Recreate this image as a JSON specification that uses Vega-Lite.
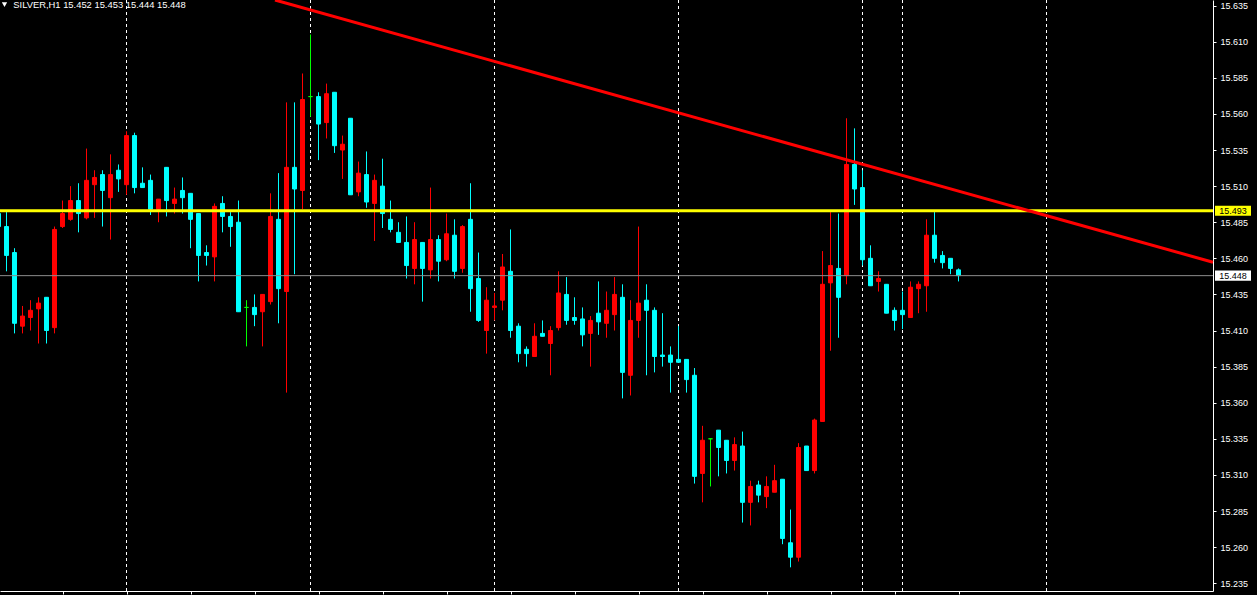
{
  "$schema": "https://vega.github.io/schema/vega-lite/v6.json",
  "width": 1213,
  "height": 591,
  "autosize": {"type": "none"},
  "padding": {"left": 0, "top": 0, "right": 44, "bottom": 4},
  "background": "#000000",
  "config": {"view": {"stroke": null}, "axis": {"grid": false, "labelOverlap": false}, "scale": {"continuousPadding": 0}},
  "datasets": {
    "candles": [
      {"i":-1,"o":15.491,"h":15.493,"l":15.480,"c":15.482},
      {"i":0,"o":15.482,"h":15.492,"l":15.451,"c":15.462},
      {"i":1,"o":15.464,"h":15.467,"l":15.408,"c":15.415},
      {"i":2,"o":15.413,"h":15.427,"l":15.408,"c":15.420},
      {"i":3,"o":15.419,"h":15.431,"l":15.410,"c":15.424},
      {"i":4,"o":15.425,"h":15.433,"l":15.401,"c":15.429},
      {"i":5,"o":15.433,"h":15.433,"l":15.401,"c":15.410},
      {"i":6,"o":15.412,"h":15.482,"l":15.408,"c":15.480},
      {"i":7,"o":15.482,"h":15.500,"l":15.481,"c":15.491},
      {"i":8,"o":15.487,"h":15.510,"l":15.486,"c":15.500},
      {"i":9,"o":15.500,"h":15.512,"l":15.478,"c":15.491},
      {"i":10,"o":15.488,"h":15.536,"l":15.487,"c":15.514},
      {"i":11,"o":15.511,"h":15.521,"l":15.488,"c":15.516},
      {"i":12,"o":15.518,"h":15.521,"l":15.482,"c":15.507},
      {"i":13,"o":15.502,"h":15.532,"l":15.473,"c":15.518},
      {"i":14,"o":15.521,"h":15.525,"l":15.506,"c":15.515},
      {"i":15,"o":15.511,"h":15.548,"l":15.504,"c":15.545},
      {"i":16,"o":15.545,"h":15.547,"l":15.505,"c":15.509},
      {"i":17,"o":15.512,"h":15.523,"l":15.509,"c":15.509},
      {"i":18,"o":15.514,"h":15.518,"l":15.490,"c":15.494},
      {"i":19,"o":15.494,"h":15.501,"l":15.485,"c":15.501},
      {"i":20,"o":15.523,"h":15.523,"l":15.489,"c":15.500},
      {"i":21,"o":15.498,"h":15.509,"l":15.491,"c":15.501},
      {"i":22,"o":15.507,"h":15.516,"l":15.491,"c":15.502},
      {"i":23,"o":15.505,"h":15.505,"l":15.467,"c":15.487},
      {"i":24,"o":15.491,"h":15.491,"l":15.444,"c":15.462},
      {"i":25,"o":15.464,"h":15.469,"l":15.455,"c":15.462},
      {"i":26,"o":15.461,"h":15.498,"l":15.444,"c":15.496},
      {"i":27,"o":15.498,"h":15.503,"l":15.478,"c":15.489},
      {"i":28,"o":15.489,"h":15.492,"l":15.468,"c":15.482},
      {"i":29,"o":15.485,"h":15.500,"l":15.423,"c":15.423},
      {"i":30,"o":15.426,"h":15.431,"l":15.399,"c":15.426},
      {"i":31,"o":15.426,"h":15.435,"l":15.413,"c":15.421},
      {"i":32,"o":15.423,"h":15.435,"l":15.399,"c":15.435},
      {"i":33,"o":15.430,"h":15.505,"l":15.428,"c":15.489},
      {"i":34,"o":15.487,"h":15.519,"l":15.415,"c":15.439},
      {"i":35,"o":15.437,"h":15.568,"l":15.367,"c":15.523},
      {"i":36,"o":15.523,"h":15.568,"l":15.449,"c":15.508},
      {"i":37,"o":15.507,"h":15.588,"l":15.494,"c":15.570},
      {"i":38,"o":15.572,"h":15.615,"l":15.558,"c":15.572},
      {"i":39,"o":15.572,"h":15.575,"l":15.528,"c":15.553},
      {"i":40,"o":15.554,"h":15.581,"l":15.543,"c":15.574},
      {"i":41,"o":15.575,"h":15.575,"l":15.533,"c":15.538},
      {"i":42,"o":15.535,"h":15.545,"l":15.515,"c":15.539},
      {"i":43,"o":15.557,"h":15.557,"l":15.504,"c":15.504},
      {"i":44,"o":15.506,"h":15.527,"l":15.503,"c":15.519},
      {"i":45,"o":15.518,"h":15.534,"l":15.495,"c":15.499},
      {"i":46,"o":15.498,"h":15.518,"l":15.472,"c":15.514},
      {"i":47,"o":15.510,"h":15.529,"l":15.481,"c":15.491},
      {"i":48,"o":15.487,"h":15.500,"l":15.478,"c":15.480},
      {"i":49,"o":15.478,"h":15.485,"l":15.471,"c":15.471},
      {"i":50,"o":15.471,"h":15.489,"l":15.446,"c":15.455},
      {"i":51,"o":15.453,"h":15.485,"l":15.442,"c":15.473},
      {"i":52,"o":15.471,"h":15.471,"l":15.430,"c":15.453},
      {"i":53,"o":15.452,"h":15.509,"l":15.446,"c":15.473},
      {"i":54,"o":15.473,"h":15.476,"l":15.444,"c":15.458},
      {"i":55,"o":15.459,"h":15.491,"l":15.458,"c":15.477},
      {"i":56,"o":15.476,"h":15.487,"l":15.446,"c":15.451},
      {"i":57,"o":15.453,"h":15.483,"l":15.450,"c":15.482},
      {"i":58,"o":15.487,"h":15.512,"l":15.423,"c":15.439},
      {"i":59,"o":15.446,"h":15.464,"l":15.416,"c":15.417},
      {"i":60,"o":15.410,"h":15.440,"l":15.394,"c":15.431},
      {"i":61,"o":15.426,"h":15.436,"l":15.417,"c":15.427},
      {"i":62,"o":15.431,"h":15.463,"l":15.424,"c":15.454},
      {"i":63,"o":15.451,"h":15.480,"l":15.405,"c":15.410},
      {"i":64,"o":15.413,"h":15.415,"l":15.388,"c":15.394},
      {"i":65,"o":15.397,"h":15.399,"l":15.385,"c":15.394},
      {"i":66,"o":15.392,"h":15.415,"l":15.392,"c":15.406},
      {"i":67,"o":15.408,"h":15.417,"l":15.406,"c":15.406},
      {"i":68,"o":15.401,"h":15.413,"l":15.379,"c":15.410},
      {"i":69,"o":15.412,"h":15.451,"l":15.410,"c":15.436},
      {"i":70,"o":15.435,"h":15.447,"l":15.414,"c":15.417},
      {"i":71,"o":15.419,"h":15.433,"l":15.414,"c":15.417},
      {"i":72,"o":15.418,"h":15.426,"l":15.399,"c":15.407},
      {"i":73,"o":15.408,"h":15.420,"l":15.385,"c":15.417},
      {"i":74,"o":15.422,"h":15.444,"l":15.407,"c":15.416},
      {"i":75,"o":15.415,"h":15.437,"l":15.405,"c":15.424},
      {"i":76,"o":15.421,"h":15.447,"l":15.410,"c":15.435},
      {"i":77,"o":15.433,"h":15.442,"l":15.363,"c":15.381},
      {"i":78,"o":15.379,"h":15.431,"l":15.365,"c":15.417},
      {"i":79,"o":15.417,"h":15.482,"l":15.405,"c":15.429},
      {"i":80,"o":15.431,"h":15.442,"l":15.379,"c":15.424},
      {"i":81,"o":15.424,"h":15.426,"l":15.381,"c":15.392},
      {"i":82,"o":15.393,"h":15.422,"l":15.385,"c":15.392},
      {"i":83,"o":15.393,"h":15.399,"l":15.367,"c":15.388},
      {"i":84,"o":15.390,"h":15.413,"l":15.388,"c":15.388},
      {"i":85,"o":15.390,"h":15.390,"l":15.367,"c":15.376},
      {"i":86,"o":15.379,"h":15.384,"l":15.304,"c":15.309},
      {"i":87,"o":15.311,"h":15.344,"l":15.291,"c":15.334},
      {"i":88,"o":15.335,"h":15.335,"l":15.302,"c":15.335},
      {"i":89,"o":15.341,"h":15.341,"l":15.309,"c":15.329},
      {"i":90,"o":15.334,"h":15.334,"l":15.311,"c":15.320},
      {"i":91,"o":15.320,"h":15.336,"l":15.313,"c":15.331},
      {"i":92,"o":15.330,"h":15.340,"l":15.277,"c":15.291},
      {"i":93,"o":15.291,"h":15.306,"l":15.275,"c":15.302},
      {"i":94,"o":15.303,"h":15.306,"l":15.291,"c":15.296},
      {"i":95,"o":15.295,"h":15.309,"l":15.287,"c":15.302},
      {"i":96,"o":15.298,"h":15.317,"l":15.298,"c":15.306},
      {"i":97,"o":15.307,"h":15.307,"l":15.262,"c":15.266},
      {"i":98,"o":15.263,"h":15.286,"l":15.246,"c":15.253},
      {"i":99,"o":15.253,"h":15.332,"l":15.250,"c":15.329},
      {"i":100,"o":15.330,"h":15.330,"l":15.313,"c":15.313},
      {"i":101,"o":15.313,"h":15.349,"l":15.311,"c":15.348},
      {"i":102,"o":15.347,"h":15.465,"l":15.347,"c":15.442},
      {"i":103,"o":15.443,"h":15.492,"l":15.396,"c":15.455},
      {"i":104,"o":15.453,"h":15.491,"l":15.405,"c":15.433},
      {"i":105,"o":15.448,"h":15.557,"l":15.442,"c":15.525},
      {"i":106,"o":15.525,"h":15.550,"l":15.497,"c":15.508},
      {"i":107,"o":15.509,"h":15.521,"l":15.455,"c":15.459},
      {"i":108,"o":15.460,"h":15.469,"l":15.441,"c":15.441},
      {"i":109,"o":15.444,"h":15.451,"l":15.437,"c":15.446},
      {"i":110,"o":15.442,"h":15.442,"l":15.422,"c":15.422},
      {"i":111,"o":15.424,"h":15.426,"l":15.410,"c":15.417},
      {"i":112,"o":15.424,"h":15.437,"l":15.411,"c":15.421},
      {"i":113,"o":15.419,"h":15.444,"l":15.419,"c":15.440},
      {"i":114,"o":15.439,"h":15.444,"l":15.422,"c":15.442},
      {"i":115,"o":15.441,"h":15.487,"l":15.423,"c":15.476},
      {"i":116,"o":15.476,"h":15.492,"l":15.457,"c":15.460},
      {"i":117,"o":15.462,"h":15.465,"l":15.453,"c":15.457},
      {"i":118,"o":15.460,"h":15.460,"l":15.449,"c":15.453},
      {"i":119,"o":15.452,"h":15.453,"l":15.444,"c":15.448}
    ],
    "seps": [{"i":15},{"i":38},{"i":61},{"i":84},{"i":107},{"i":112},{"i":130}],
    "trend": [{"i":33.5625,"p":15.6389},{"i":150.8125,"p":15.4573}],
    "levels": [
      {"name":"level","price":15.493,"label":"15.493"},
      {"name":"bid","price":15.448,"label":"15.448"}
    ],
    "header": [{"text":"SILVER,H1  15.452 15.453 15.444 15.448"}]
  },
  "layer": [
    {
      "data": {"name": "seps"},
      "mark": {"type": "rule", "color": "#ffffff", "strokeWidth": 1, "strokeDash": [3, 3]},
      "encoding": {
        "x": {"field": "i", "type": "quantitative", "title": null,
          "scale": {"domain": [-0.8125, 150.8125], "nice": false, "zero": false, "padding": 0},
          "axis": {"orient": "bottom", "values": [7,15,23,31,39,47,55,63,71,79,87,95,103,111,119], "tickCount": 40, "labels": false, "domainColor": "#ffffff", "domainWidth": 1, "tickColor": "#ffffff", "tickSize": 3, "grid": false, "title": null}}
      }
    },
    {
      "data": {"name": "candles"},
      "mark": {"type": "rule", "strokeWidth": 1},
      "encoding": {
        "x": {"field": "i", "type": "quantitative", "title": null, "scale": {"domain": [-0.8125, 150.8125], "nice": false, "zero": false, "padding": 0}},
        "y": {"field": "h", "type": "quantitative", "title": null,
          "scale": {"domain": [15.2296, 15.6389], "nice": false, "zero": false},
          "axis": {"orient": "right", "values": [15.235,15.26,15.285,15.31,15.335,15.36,15.385,15.41,15.435,15.46,15.485,15.51,15.535,15.56,15.585,15.61,15.635], "tickCount": 30, "format": ".3f", "domainColor": "#ffffff", "domainWidth": 1, "tickColor": "#ffffff", "tickSize": 3, "tickWidth": 1, "labelColor": "#ffffff", "labelFont": "Liberation Sans", "labelFontSize": 9, "labelPadding": 4, "labelBaseline": "middle", "labelOverlap": false, "labelFlush": false, "labelBound": false, "grid": false, "title": null}},
        "y2": {"field": "l"},
        "color": {"condition": [{"test": "datum.c > datum.o", "value": "#ff0000"}, {"test": "datum.c < datum.o", "value": "#00ffff"}], "value": "#00ff00"}
      }
    },
    {
      "data": {"name": "candles"},
      "mark": {"type": "bar", "width": 4, "strokeWidth": 1},
      "encoding": {
        "x": {"field": "i", "type": "quantitative", "title": null, "scale": {"domain": [-0.8125, 150.8125], "nice": false, "zero": false, "padding": 0}},
        "y": {"field": "o", "type": "quantitative", "title": null, "scale": {"domain": [15.2296, 15.6389], "nice": false, "zero": false}},
        "y2": {"field": "c"},
        "fill": {"condition": [{"test": "datum.c > datum.o", "value": "#ff0000"}, {"test": "datum.c < datum.o", "value": "#00ffff"}], "value": "#00ff00"},
        "stroke": {"condition": [{"test": "datum.c > datum.o", "value": "#ff0000"}, {"test": "datum.c < datum.o", "value": "#00ffff"}], "value": "#00ff00"}
      }
    },
    {
      "data": {"name": "levels"},
      "transform": [{"filter": "datum.name == 'bid'"}],
      "mark": {"type": "rule", "color": "#8c8c8c", "strokeWidth": 1},
      "encoding": {
        "y": {"field": "price", "type": "quantitative", "title": null, "scale": {"domain": [15.2296, 15.6389], "nice": false, "zero": false}}
      }
    },
    {
      "data": {"name": "levels"},
      "transform": [{"filter": "datum.name == 'level'"}],
      "mark": {"type": "rule", "color": "#ffff00", "strokeWidth": 3},
      "encoding": {
        "y": {"field": "price", "type": "quantitative", "title": null, "scale": {"domain": [15.2296, 15.6389], "nice": false, "zero": false}}
      }
    },
    {
      "data": {"name": "trend"},
      "mark": {"type": "line", "color": "#ff0000", "strokeWidth": 3},
      "encoding": {
        "x": {"field": "i", "type": "quantitative", "title": null, "scale": {"domain": [-0.8125, 150.8125], "nice": false, "zero": false, "padding": 0}},
        "y": {"field": "p", "type": "quantitative", "title": null, "scale": {"domain": [15.2296, 15.6389], "nice": false, "zero": false}}
      }
    },
    {
      "data": {"name": "levels"},
      "mark": {"type": "point", "filled": true, "opacity": 1, "shape": "M-1,-0.28H1V0.28H-1Z", "size": 1296, "strokeWidth": 0, "clip": false},
      "encoding": {
        "x": {"datum": 153.3125, "type": "quantitative", "scale": {"domain": [-0.8125, 150.8125], "nice": false, "zero": false, "padding": 0}},
        "y": {"field": "price", "type": "quantitative", "title": null, "scale": {"domain": [15.2296, 15.6389], "nice": false, "zero": false}},
        "color": {"condition": {"test": "datum.name == 'level'", "value": "#ffff00"}, "value": "#ffffff"}
      }
    },
    {
      "data": {"name": "levels"},
      "mark": {"type": "text", "color": "#000000", "font": "Liberation Sans", "fontSize": 9, "align": "center", "baseline": "middle", "clip": false},
      "encoding": {
        "x": {"datum": 153.3125, "type": "quantitative", "scale": {"domain": [-0.8125, 150.8125], "nice": false, "zero": false, "padding": 0}},
        "y": {"field": "price", "type": "quantitative", "title": null, "scale": {"domain": [15.2296, 15.6389], "nice": false, "zero": false}},
        "text": {"field": "label"}
      }
    },
    {
      "data": {"name": "header"},
      "mark": {"type": "text", "color": "#ffffff", "font": "Liberation Sans", "fontSize": 9.4, "align": "left", "baseline": "alphabetic"},
      "encoding": {
        "x": {"datum": 0.85, "type": "quantitative", "scale": {"domain": [-0.8125, 150.8125], "nice": false, "zero": false, "padding": 0}},
        "y": {"datum": 15.6332, "type": "quantitative", "scale": {"domain": [15.2296, 15.6389], "nice": false, "zero": false}},
        "text": {"field": "text"}
      }
    },
    {
      "data": {"name": "header"},
      "mark": {"type": "point", "shape": "triangle-down", "filled": true, "color": "#ffffff", "opacity": 1, "size": 28},
      "encoding": {
        "x": {"datum": -0.25, "type": "quantitative", "scale": {"domain": [-0.8125, 150.8125], "nice": false, "zero": false, "padding": 0}},
        "y": {"datum": 15.6357, "type": "quantitative", "scale": {"domain": [15.2296, 15.6389], "nice": false, "zero": false}}
      }
    }
  ]
}
